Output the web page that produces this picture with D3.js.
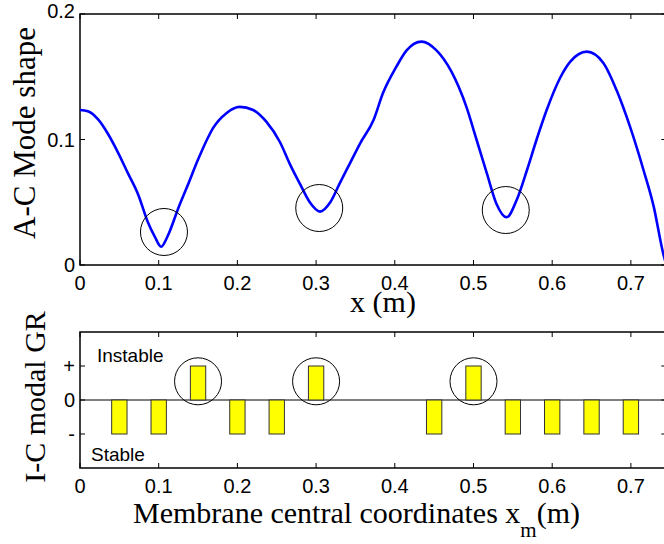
<!DOCTYPE html>
<html>
<head>
<meta charset="utf-8">
<script src="https://cdn.jsdelivr.net/npm/d3@7"></script>
<style>
  body { margin: 0; background: #fff; }
  svg { display: block; }
</style>
</head>
<body>
<svg id="chart" width="664" height="544"></svg>
<script>
// A-C mode shape along the structure
const shapeX = [0, 0.010, 0.023, 0.036, 0.048, 0.061, 0.074, 0.086, 0.095, 0.103, 0.112, 0.125, 0.137, 0.150, 0.163, 0.169, 0.186, 0.203, 0.220, 0.237, 0.254, 0.267, 0.280, 0.292, 0.305, 0.318, 0.330, 0.343, 0.356, 0.373, 0.385, 0.402, 0.415, 0.434, 0.453, 0.472, 0.491, 0.504, 0.517, 0.529, 0.542, 0.555, 0.568, 0.580, 0.593, 0.610, 0.623, 0.644, 0.665, 0.682, 0.699, 0.716, 0.729, 0.741, 0.745];
const shapeY = [0.1235, 0.1225, 0.116, 0.104, 0.090, 0.073, 0.056, 0.0345, 0.0226, 0.0146, 0.0239, 0.0454, 0.0637, 0.084, 0.102, 0.109, 0.121, 0.126, 0.1235, 0.114, 0.098, 0.080, 0.064, 0.050, 0.0425, 0.050, 0.065, 0.081, 0.097, 0.1155, 0.137, 0.158, 0.171, 0.178, 0.171, 0.154, 0.126, 0.0996, 0.073, 0.049, 0.038, 0.052, 0.0757, 0.0996, 0.1235, 0.149, 0.162, 0.170, 0.161, 0.139, 0.110, 0.0757, 0.0465, 0.0093, 0.0];

// circled minima (x, y)
const minimaX = [0.1067, 0.304, 0.541];
const minimaY = [0.0263, 0.0454, 0.0438];

// I-C modal growth rate sign per membrane position
const membraneX = [0.05, 0.10, 0.15, 0.20, 0.25, 0.30, 0.45, 0.50, 0.55, 0.60, 0.65, 0.70];
const growthSign = [-1, -1, 1, -1, -1, 1, -1, 1, -1, -1, -1, -1];

const xTicks = [0, 0.1, 0.2, 0.3, 0.4, 0.5, 0.6, 0.7];
const yTicksTop = [0, 0.1, 0.2];
const yTicksBottom = [-1, 0, 1];
const yTickLabelsBottom = ['-', '0', '+'];

const svg = d3.select('#chart');
const sansFont = '"Liberation Sans", Arial, sans-serif';
const serifFont = '"Liberation Serif", "Times New Roman", serif';

const left = 80, right = 666.3;
const x = d3.scaleLinear().domain([0, 0.745]).range([left, right]);

const yTop = d3.scaleLinear().domain([0, 0.2]).range([265, 14]);
const yBot = d3.scaleLinear().domain([-2, 2]).range([468, 332]);

svg.append('defs').append('clipPath').attr('id', 'clipTop')
  .append('rect')
  .attr('x', left).attr('y', yTop(0.2))
  .attr('width', right - left).attr('height', yTop(0) - yTop(0.2));

// draw a matlab-like boxed axes with inward ticks
function drawBox(y, yTicks, yLabels, topLabelShift) {
  const y0 = y.range()[0], y1 = y.range()[1];
  const g = svg.append('g');
  const tl = 5;

  xTicks.forEach(t => {
    g.append('line').attr('x1', x(t)).attr('x2', x(t)).attr('y1', y0).attr('y2', y0 - tl)
      .attr('stroke', '#000').attr('stroke-width', 1);
    g.append('line').attr('x1', x(t)).attr('x2', x(t)).attr('y1', y1).attr('y2', y1 + tl)
      .attr('stroke', '#000').attr('stroke-width', 1);
    g.append('text')
      .attr('x', x(t)).attr('y', y0 + 25)
      .attr('text-anchor', 'middle')
      .style('font-family', sansFont).style('font-size', '20px')
      .text(t === 0 ? '0' : d3.format('.1f')(t));
  });

  yTicks.forEach((t, i) => {
    g.append('line').attr('x1', left).attr('x2', left + tl).attr('y1', y(t)).attr('y2', y(t))
      .attr('stroke', '#000').attr('stroke-width', 1);
    g.append('line').attr('x1', right).attr('x2', right - tl).attr('y1', y(t)).attr('y2', y(t))
      .attr('stroke', '#000').attr('stroke-width', 1);
    const shift = (i === yTicks.length - 1) ? topLabelShift : 0;
    g.append('text')
      .attr('x', 75).attr('y', y(t) + shift)
      .attr('dy', '0.35em')
      .attr('text-anchor', 'end')
      .style('font-family', sansFont).style('font-size', '20px')
      .text(yLabels[i]);
  });

  g.append('rect')
    .attr('x', left).attr('y', y1)
    .attr('width', right - left).attr('height', y0 - y1)
    .attr('fill', 'none').attr('stroke', '#000').attr('stroke-width', 1.5);
  return g;
}

// ---- top panel ----
// top label sits a bit higher in the original
drawBox(yTop, yTicksTop, ['0', '0.1', '0.2'], -3);

const shapeData = shapeX.map((d, i) => ({ x: d, y: shapeY[i] }));
svg.append('path')
  .datum(shapeData)
  .attr('clip-path', 'url(#clipTop)')
  .attr('fill', 'none')
  .attr('stroke', '#0000ff')
  .attr('stroke-width', 2.6)
  .attr('stroke-linejoin', 'round')
  .attr('d', d3.line().x(d => x(d.x)).y(d => yTop(d.y)).curve(d3.curveMonotoneX));

svg.selectAll('.min-circle')
  .data(minimaX)
  .enter()
  .append('circle')
  .attr('class', 'min-circle')
  .attr('cx', d => x(d))
  .attr('cy', (d, i) => yTop(minimaY[i]))
  .attr('r', 23.5)
  .attr('fill', 'none')
  .attr('stroke', '#000')
  .attr('stroke-width', 1);

svg.append('text')
  .attr('transform', `translate(35, 133) rotate(-90)`)
  .attr('text-anchor', 'middle')
  .style('font-family', serifFont).style('font-size', '31px')
  .text('A-C Mode shape');

svg.append('text')
  .attr('x', 383).attr('y', 312)
  .attr('text-anchor', 'middle')
  .style('font-family', serifFont).style('font-size', '30px')
  .text('x (m)');

// ---- bottom panel ----
drawBox(yBot, yTicksBottom, yTickLabelsBottom, 0);

svg.append('line')
  .attr('x1', left).attr('x2', right)
  .attr('y1', yBot(0)).attr('y2', yBot(0))
  .attr('stroke', '#000').attr('stroke-width', 1);

const barW = x(0.0195) - x(0);
svg.selectAll('.bar')
  .data(membraneX)
  .enter()
  .append('rect')
  .attr('class', 'bar')
  .attr('x', d => x(d) - barW / 2)
  .attr('y', (d, i) => yBot(Math.max(0, growthSign[i])))
  .attr('width', barW)
  .attr('height', (d, i) => Math.abs(yBot(growthSign[i]) - yBot(0)))
  .attr('fill', '#ffff00')
  .attr('stroke', '#333')
  .attr('stroke-width', 1);

// circle the unstable membranes
svg.selectAll('.gr-circle')
  .data(membraneX.filter((d, i) => growthSign[i] > 0))
  .enter()
  .append('circle')
  .attr('class', 'gr-circle')
  .attr('cx', d => x(d))
  .attr('cy', yBot(0.55))
  .attr('r', 23.5)
  .attr('fill', 'none')
  .attr('stroke', '#000')
  .attr('stroke-width', 1);

svg.append('text')
  .attr('x', 97).attr('y', 362)
  .style('font-family', sansFont).style('font-size', '19px')
  .text('Instable');

svg.append('text')
  .attr('x', 91).attr('y', 461)
  .style('font-family', sansFont).style('font-size', '19px')
  .text('Stable');

svg.append('text')
  .attr('transform', `translate(45, 397) rotate(-90)`)
  .attr('text-anchor', 'middle')
  .style('font-family', serifFont).style('font-size', '30px')
  .text('I-C modal GR');

const xLabel = svg.append('text')
  .attr('x', 133).attr('y', 523)
  .style('font-family', serifFont).style('font-size', '30px');
xLabel.append('tspan').text('Membrane central coordinates x');
xLabel.append('tspan').attr('dy', 14).style('font-size', '21px').text('m');
xLabel.append('tspan').attr('dy', -14).text('(m)');
</script>
</body>
</html>
